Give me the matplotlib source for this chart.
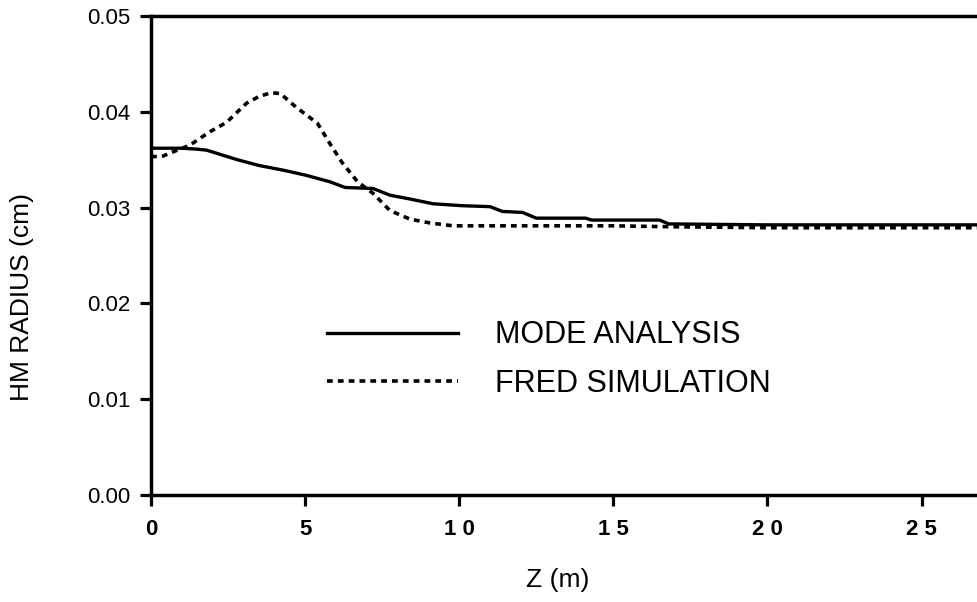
import matplotlib.pyplot as plt

# values
mode_z = [0, 0.5, 1.0, 1.5, 1.8, 2.2, 2.8, 3.5, 4.3, 5.0, 5.8, 6.3, 7.2, 7.75,
          8.4, 9.15, 10.1, 11.0, 11.4, 12.05, 12.5, 14.1, 14.3, 16.5, 16.8,
          20.0, 26.8]
mode_r = [0.0362, 0.0362, 0.0362, 0.0361, 0.0360, 0.0356, 0.0350, 0.0344,
          0.0339, 0.0334, 0.0327, 0.0321, 0.0320, 0.0313, 0.0309, 0.0304,
          0.0302, 0.0301, 0.0296, 0.0295, 0.0289, 0.0289, 0.0287, 0.0287,
          0.0283, 0.0282, 0.0282]

fred_z = [0, 0.4, 0.7, 1.25, 1.9, 2.45, 3.1, 3.5, 3.9, 4.2, 4.7, 5.4, 5.8,
          6.2, 6.7, 7.2, 7.75, 8.4, 9.05, 9.8, 12.0, 15.0, 17.0, 20.0, 26.8]
fred_r = [0.0353, 0.0354, 0.0358, 0.0365, 0.0379, 0.0389, 0.0409, 0.0416,
          0.0420, 0.0419, 0.0405, 0.0388, 0.0367, 0.0347, 0.0327, 0.0315,
          0.0297, 0.0288, 0.0284, 0.0281, 0.0281, 0.0281, 0.0280, 0.0279,
          0.0279]

xticks = [0, 5, 10, 15, 20, 25]
xtick_labels = ['0', '5', '1 0', '1 5', '2 0', '2 5']
yticks = [0.00, 0.01, 0.02, 0.03, 0.04, 0.05]

plt.rcParams['font.family'] = ['Liberation Sans', 'DejaVu Sans']
plt.rcParams['xtick.labelsize'] = 16
plt.rcParams['ytick.labelsize'] = 16

fig = plt.figure(figsize=(9.77, 6.02), dpi=100)
ax = fig.add_axes([0.1546, 0.1777, 0.8454, 0.7957])

ax.plot(mode_z, mode_r, color='black', linewidth=2.4, label='MODE ANALYSIS')
ax.plot(fred_z, fred_r, color='black', linewidth=2.6,
        linestyle=(0, (1.6, 1.4)), label='FRED SIMULATION')

ax.set_xlim(0, 26.8)
ax.set_ylim(0, 0.05)

ax.spines['right'].set_visible(False)
for s in ['left', 'top', 'bottom']:
    ax.spines[s].set_linewidth(2.5)
ax.tick_params(axis='both', direction='out', length=8, width=2.3)
ax.tick_params(axis='y', pad=7)
ax.tick_params(axis='x', pad=9)

ax.set_xticks(xticks)
ax.set_xticklabels(xtick_labels, fontsize=16, fontweight='bold')
ax.set_yticks(yticks)
ax.set_yticklabels(['%.2f' % v for v in yticks], fontsize=16)

fig.text(22 / 977, 1 - 297 / 602, 'HM RADIUS (cm)', rotation=90,
         fontsize=19, ha='center', va='center')
fig.text(558 / 977, 1 - 580 / 602, 'Z (m)', fontsize=19,
         ha='center', va='center')

ax.legend(loc='center left', bbox_to_anchor=(327 / 977, 1 - 359.5 / 602),
          bbox_transform=fig.transFigure, frameon=False, fontsize=22,
          handlelength=4.3, handletextpad=1.2, labelspacing=0.6,
          borderpad=0, borderaxespad=0)

plt.savefig('out.png', dpi=100)
